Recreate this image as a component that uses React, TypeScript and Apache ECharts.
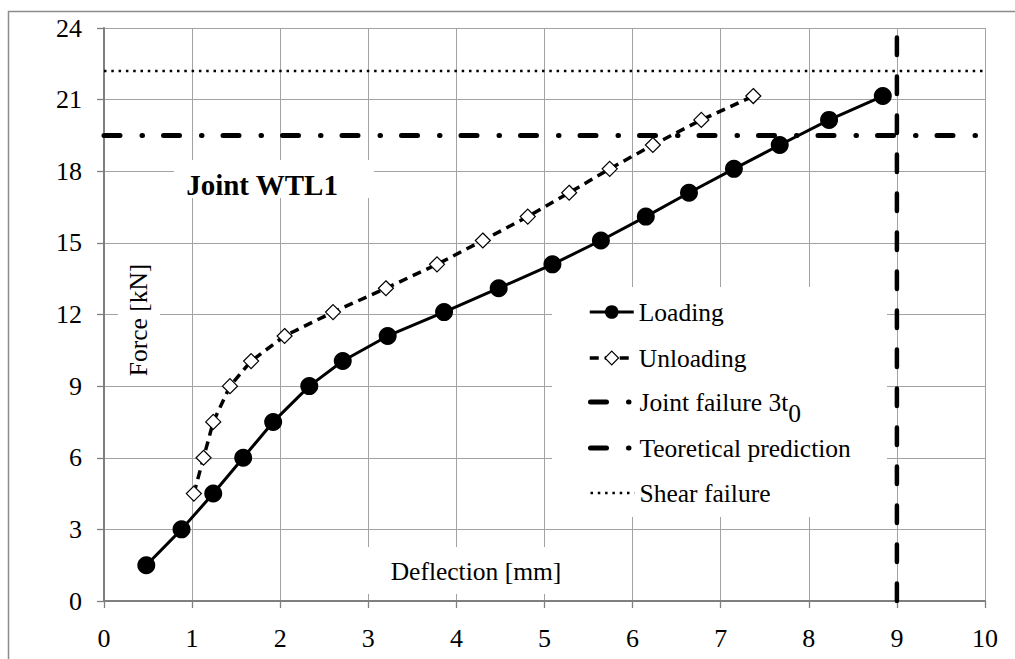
import React, { useEffect, useRef } from 'react';
import * as echarts from 'echarts';

// Deflection [mm] / Force [kN]
const loadingX = [0.48, 0.88, 1.24, 1.58, 1.92, 2.33, 2.71, 3.22, 3.86, 4.48, 5.09, 5.64, 6.15, 6.64, 7.15, 7.67, 8.23, 8.84];
const loadingY = [1.5, 3.0, 4.5, 6.0, 7.5, 9.0, 10.05, 11.1, 12.1, 13.1, 14.1, 15.1, 16.1, 17.1, 18.1, 19.1, 20.15, 21.15];
const unloadingX = [1.02, 1.13, 1.24, 1.43, 1.67, 2.05, 2.6, 3.2, 3.78, 4.3, 4.81, 5.28, 5.74, 6.23, 6.78, 7.37];
const unloadingY = [4.5, 6.0, 7.5, 9.0, 10.05, 11.1, 12.1, 13.1, 14.1, 15.1, 16.1, 17.1, 18.1, 19.1, 20.15, 21.15];
const jointFailure = 19.5; // horizontal line, kN
const theoreticalPrediction = 9; // vertical line, mm
const shearFailure = 22.2; // horizontal line, kN
const xRange = [0, 10];
const yRange = [0, 24];

const FONT = 'Liberation Serif';
const AXIS_COLOR = '#7f7f7f';
const GRID_COLOR = '#a3a3a3';
const TRANSPARENT = 'rgba(0,0,0,0)';

export default function App() {
  const ref = useRef<HTMLDivElement>(null);

  useEffect(() => {
    if (!ref.current) return;
    const chart = echarts.init(ref.current, null, { renderer: 'svg' });

    const loading = loadingX.map((x, i) => [x, loadingY[i]]);
    const unloading = unloadingX.map((x, i) => [x, unloadingY[i]]);

    const legendBase = {
      orient: 'vertical' as const,
      left: 588,
      padding: 0,
      itemWidth: 44,
      itemHeight: 17,
      selectedMode: false,
      lineStyle: { width: 'inherit', type: 'inherit', cap: 'inherit' },
      itemStyle: { borderWidth: 'inherit', borderColor: 'inherit', color: 'inherit' },
      textStyle: { fontFamily: FONT, fontSize: 25.5, color: '#000', lineHeight: 26 },
    };

    const axisCommon = {
      type: 'value' as const,
      axisLine: { show: true, onZero: false, lineStyle: { color: AXIS_COLOR, width: 2 } },
      axisTick: { show: true, inside: false, length: 7, lineStyle: { color: AXIS_COLOR, width: 1.3 } },
      splitLine: { show: true, lineStyle: { color: GRID_COLOR, width: 1 } },
    };

    chart.setOption({
      animation: false,
      backgroundColor: '#fff',
      textStyle: { fontFamily: FONT },
      grid: { left: 104, right: 30, top: 28, bottom: 58, containLabel: false },
      xAxis: {
        ...axisCommon,
        min: xRange[0],
        max: xRange[1],
        interval: 1,
        axisLabel: { fontFamily: FONT, fontSize: 26, color: '#000', margin: 24 },
      },
      yAxis: {
        ...axisCommon,
        min: yRange[0],
        max: yRange[1],
        interval: 3,
        axisLabel: { fontFamily: FONT, fontSize: 26, color: '#000', margin: 22 },
      },
      legend: [
        { ...legendBase, top: 299, itemGap: 20, data: ['Loading', 'Unloading'] },
        {
          ...legendBase,
          top: 389,
          itemGap: 20,
          data: ['Joint failure 3t0'],
          formatter: () => '{a|Joint failure 3t}{s|0}',
          textStyle: {
            fontFamily: FONT,
            fontSize: 25.5,
            color: '#000',
            rich: {
              a: { fontFamily: FONT, fontSize: 25.5, color: '#000', lineHeight: 48 },
              s: { fontFamily: FONT, fontSize: 25.5, color: '#000', lineHeight: 26, verticalAlign: 'bottom' },
            },
          },
        },
        {
          ...legendBase,
          top: 435,
          itemGap: 19,
          data: [
            { name: 'Teoretical prediction', lineStyle: { type: [16, 22, 0.5, 21], width: 5 } },
            'Shear failure',
          ],
        },
      ],
      series: [
        {
          name: 'Shear failure',
          type: 'line',
          data: [[xRange[0], shearFailure], [xRange[1], shearFailure]],
          symbol: 'circle',
          showSymbol: false,
          lineStyle: { color: '#000', width: 2.5, type: [2.5, 4.8] },
          itemStyle: { color: TRANSPARENT, borderColor: TRANSPARENT, borderWidth: 0 },
          z: 2,
        },
        {
          name: 'Joint failure 3t0',
          type: 'line',
          data: [[xRange[0], jointFailure], [xRange[1], jointFailure]],
          symbol: 'circle',
          showSymbol: false,
          lineStyle: { color: '#000', width: 5, type: [16, 22, 0.5, 21], cap: 'round' },
          itemStyle: { color: TRANSPARENT, borderColor: TRANSPARENT, borderWidth: 0 },
          z: 2,
        },
        {
          name: 'Teoretical prediction',
          type: 'line',
          data: [[theoreticalPrediction, yRange[0]], [theoreticalPrediction, yRange[1]]],
          symbol: 'circle',
          showSymbol: false,
          lineStyle: { color: '#000', width: 4.5, type: [17.5, 21.5], cap: 'round' },
          itemStyle: { color: TRANSPARENT, borderColor: TRANSPARENT, borderWidth: 0 },
          z: 2,
        },
        {
          name: 'Unloading',
          type: 'line',
          data: unloading,
          symbol: 'diamond',
          symbolSize: 15,
          lineStyle: { color: '#000', width: 3.5, type: [9, 6] },
          itemStyle: { color: '#fff', borderColor: '#000', borderWidth: 1.2 },
          z: 3,
        },
        {
          name: 'Loading',
          type: 'line',
          data: loading,
          symbol: 'circle',
          symbolSize: 18,
          lineStyle: { color: '#000', width: 3 },
          itemStyle: { color: '#000', borderColor: '#000', borderWidth: 0 },
          z: 4,
        },
      ],
      graphic: [
        {
          type: 'rect',
          z: 0,
          silent: true,
          shape: { x: 8.5, y: 11.5, width: 1300, height: 900 },
          style: { fill: 'none', stroke: '#8c8c8c', lineWidth: 1.5 },
        },
        {
          type: 'rect',
          z: 1,
          silent: true,
          shape: { x: 174, y: 160, width: 200, height: 38 },
          style: { fill: '#fff' },
        },
        {
          type: 'text',
          z: 1,
          silent: true,
          x: 262,
          y: 185,
          style: {
            text: 'Joint WTL1',
            fontFamily: FONT,
            fontSize: 29,
            fontWeight: 'bold',
            fill: '#000',
            align: 'center',
            verticalAlign: 'middle',
          },
        },
        {
          type: 'rect',
          z: 1,
          silent: true,
          shape: { x: 118, y: 258, width: 42, height: 124 },
          style: { fill: '#fff' },
        },
        {
          type: 'text',
          z: 1,
          silent: true,
          x: 138,
          y: 320,
          rotation: Math.PI / 2,
          style: {
            text: 'Force [kN]',
            fontFamily: FONT,
            fontSize: 25.5,
            fill: '#000',
            align: 'center',
            verticalAlign: 'middle',
          },
        },
        {
          type: 'rect',
          z: 1,
          silent: true,
          shape: { x: 362, y: 547, width: 238, height: 47 },
          style: { fill: '#fff' },
        },
        {
          type: 'text',
          z: 1,
          silent: true,
          x: 476,
          y: 571,
          style: {
            text: 'Deflection [mm]',
            fontFamily: FONT,
            fontSize: 25.5,
            fill: '#000',
            align: 'center',
            verticalAlign: 'middle',
          },
        },
        {
          type: 'rect',
          z: 1,
          silent: true,
          shape: { x: 552, y: 287, width: 335, height: 230 },
          style: { fill: '#fff' },
        },
      ],
    });

    return () => chart.dispose();
  }, []);

  return (
    <div
      ref={ref}
      style={{ position: 'fixed', left: 0, top: 0, width: 1015, height: 659, background: '#fff' }}
    />
  );
}
